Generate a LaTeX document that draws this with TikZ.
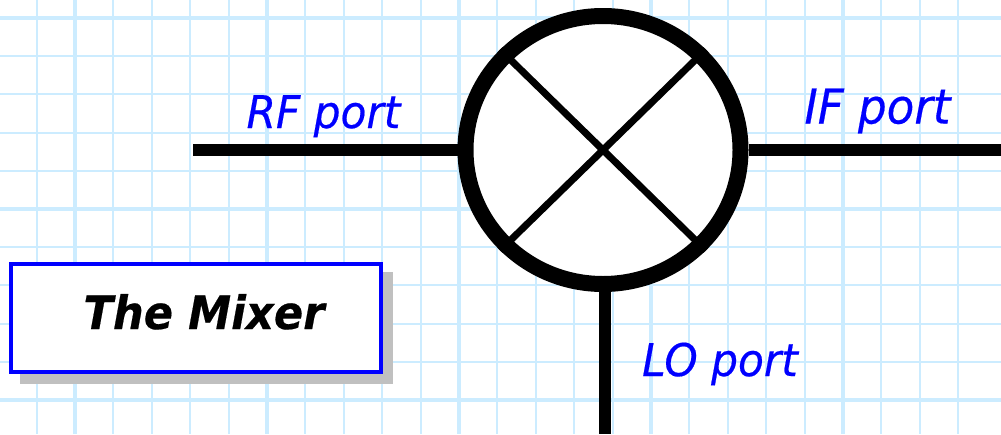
\documentclass[tikz,border=0pt]{standalone}
\usepackage{fontspec}
\setmainfont{DejaVu Sans}[FakeStretch=0.94,FakeBold=0.4]
\usetikzlibrary{shapes.geometric}
\definecolor{gridblue}{RGB}{204,236,255}
\definecolor{portblue}{RGB}{0,0,255}
\definecolor{shadowgray}{RGB}{192,192,192}
\tikzset{
  x=1pt,y=-1pt,
  minorgrid/.style={draw=gridblue,line width=2pt},
  majorgrid/.style={draw=gridblue,line width=3.5pt},
  wire/.style={draw=black,line width=11.5pt},
  crossbar/.style={draw=black,line width=7pt},
  portlabel/.style={text=portblue,font=\itshape\fontsize{45}{45}\selectfont,inner sep=0pt,anchor=base},
  titlebox/.style={draw=portblue,fill=white,line width=4pt,minimum width=370pt,minimum height=108pt,inner sep=0pt},
  shadowbox/.style={fill=shadowgray,draw=none,minimum width=373pt,minimum height=112pt,inner sep=0pt},
  mixerring/.style={ellipse,draw=black,fill=white,line width=16pt,minimum width=275pt,minimum height=268pt,inner sep=0pt}
}
\begin{document}
\begin{tikzpicture}
\useasboundingbox (0,0) rectangle (1001,434);
\fill[white] (0,0) rectangle (1001,434);
\foreach \k in {-1,0,...,24}{
  \pgfmathsetmacro\xx{36.6+38.4*\k}
  \draw[minorgrid] (\xx,0) -- (\xx,434);
}
\foreach \k in {0,...,11}{
  \pgfmathsetmacro\yy{18+38.2*\k}
  \draw[minorgrid] (0,\yy) -- (1001,\yy);
}
\foreach \k in {0,...,4}{
  \pgfmathsetmacro\xx{75+192*\k}
  \draw[majorgrid] (\xx,0) -- (\xx,434);
}
\foreach \k in {0,1,2}{
  \pgfmathsetmacro\yy{18+191*\k}
  \draw[majorgrid] (0,\yy) -- (1001,\yy);
}
\node[shadowbox] (shadow) at (206.5,328) {};
\node[titlebox] (title) at (196,318) {};
\node[font=\bfseries\itshape\fontsize{46}{46}\selectfont,text=black,inner sep=0pt,anchor=base] (titletext) at (204,329) {The Mixer};
\coordinate (rfend) at (193,150);
\coordinate (ifend) at (1001,150);
\coordinate (loend) at (605,434);
\node[mixerring] (mixer) at (603,150) {};
\draw[wire] (rfend) -- (mixer.west);
\draw[wire] (mixer.east) -- (ifend);
\draw[wire] (mixer.south -| loend) -- (loend);
\draw[crossbar] (mixer.north west) -- (mixer.south east);
\draw[crossbar] (mixer.north east) -- (mixer.south west);
\node[portlabel] (rf) at (323.5,128) {RF port};
\node[portlabel,font=\itshape\fontsize{48}{48}\selectfont] (if) at (877.5,123.5) {IF port};
\node[portlabel] (lo) at (720,376) {LO port};
\end{tikzpicture}
\end{document}
